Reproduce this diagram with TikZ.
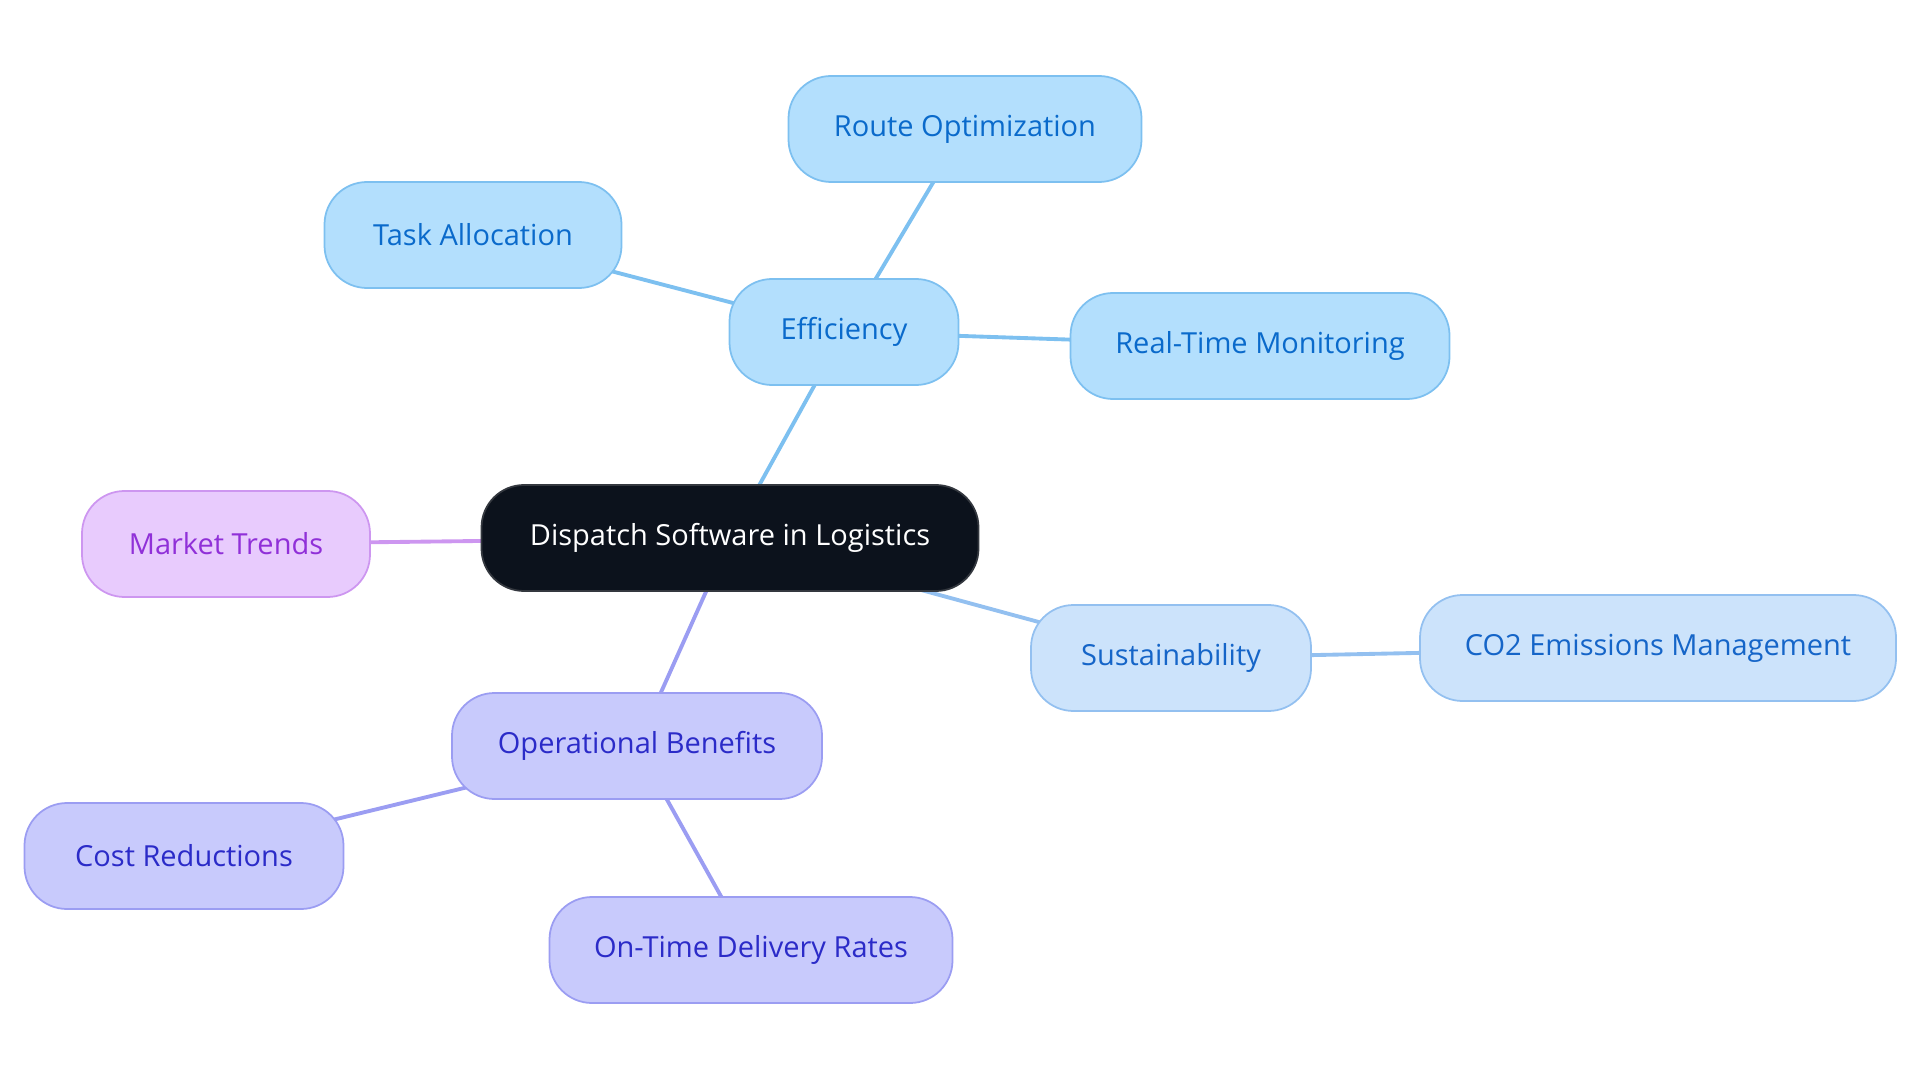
\documentclass[tikz,border=0pt]{standalone}
\usepackage{fontspec}
\setmainfont{Open Sans}
\usepackage{tikz}
\usetikzlibrary{backgrounds,positioning}
\definecolor{rootfill}{HTML}{0C121C}
\definecolor{rootline}{HTML}{34383F}
\definecolor{effill}{HTML}{B3DFFD}
\definecolor{efline}{HTML}{7DC0F0}
\definecolor{eftext}{HTML}{0A6ACB}
\definecolor{sufill}{HTML}{CCE3FB}
\definecolor{suline}{HTML}{93C0F0}
\definecolor{sutext}{HTML}{1565C8}
\definecolor{opfill}{HTML}{C8CAFC}
\definecolor{opline}{HTML}{9B9DF2}
\definecolor{optext}{HTML}{2B2BC8}
\definecolor{mkfill}{HTML}{E8CBFD}
\definecolor{mkline}{HTML}{CD96F0}
\definecolor{mktext}{HTML}{9030D8}
\tikzset{pill/.style={rounded corners=0.85cm,minimum height=2.12cm,line width=1pt,font=\fontsize{16.5}{19}\selectfont,inner sep=0pt}}
\tikzset{rootbox/.style={pill,fill=rootfill,draw=rootline,text=white}}
\tikzset{effbox/.style={pill,fill=effill,draw=efline,text=eftext}}
\tikzset{susbox/.style={pill,fill=sufill,draw=suline,text=sutext}}
\tikzset{opsbox/.style={pill,fill=opfill,draw=opline,text=optext}}
\tikzset{mktbox/.style={pill,fill=mkfill,draw=mkline,text=mktext}}
\tikzset{link/.style={line width=2.2pt}}

\begin{document}
\begin{tikzpicture}
        \useasboundingbox (0,0) rectangle (38.4,-21.66);
        \node[rootbox,minimum width=9.94cm] (root) at (14.6,-10.76) {Dispatch Software in Logistics};
        % efficiency branch
        \node[effbox,minimum width=4.58cm] (eff) at (16.88,-6.64) {Efficiency};
        \node[effbox,minimum width=7.06cm] (route) at (19.3,-2.58) {Route Optimization};
        \node[effbox,minimum width=5.94cm] (task) at (9.46,-4.7) {Task Allocation};
        \node[effbox,minimum width=7.58cm] (rtm) at (25.2,-6.92) {Real-Time Monitoring};
        % market trends
        \node[mktbox,minimum width=5.76cm] (mkt) at (4.52,-10.88) {Market Trends};
        % sustainability branch
        \node[susbox,minimum width=5.6cm] (sus) at (23.42,-13.16) {Sustainability};
        \node[susbox,minimum width=9.52cm] (co2) at (33.16,-12.96) {CO2 Emissions Management};
        % operational branch
        \node[opsbox,minimum width=7.4cm] (ops) at (12.74,-14.92) {Operational Benefits};
        \node[opsbox,minimum width=6.38cm] (cost) at (3.68,-17.12) {Cost Reductions};
        \node[opsbox,minimum width=8.06cm] (otd) at (15.02,-19.0) {On-Time Delivery Rates};

        \begin{scope}[on background layer]
            \draw[link,efline] (root.center) -- (eff.center);
            \draw[link,efline] (eff.center) -- (route.center);
            \draw[link,efline] (eff.center) -- (task.center);
            \draw[link,efline] (eff.center) -- (rtm.center);
            \draw[link,mkline] (root.center) -- (mkt.center);
            \draw[link,suline] (root.center) -- (sus.center);
            \draw[link,suline] (sus.center) -- (co2.center);
            \draw[link,opline] (root.center) -- (ops.center);
            \draw[link,opline] (ops.center) -- (cost.center);
            \draw[link,opline] (ops.center) -- (otd.center);
        \end{scope}
    \end{tikzpicture}
\end{document}
